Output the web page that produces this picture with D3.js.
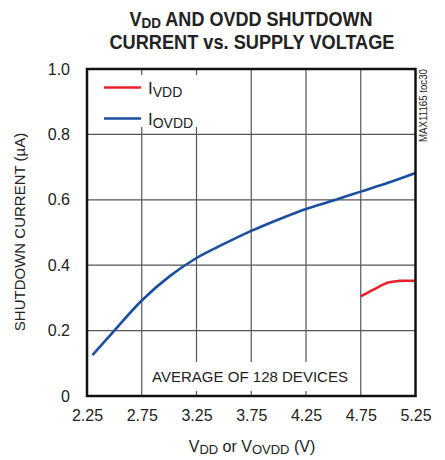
<!DOCTYPE html>
<html><head><meta charset="utf-8">
<script src="https://cdn.jsdelivr.net/npm/d3@7"></script>
<style>body{margin:0;background:#fff}svg{display:block;font-family:"Liberation Sans",Arial,sans-serif}</style>
</head><body>
<svg id="c" width="445" height="460"></svg>
<script>
const ovddV = [2.30, 2.5, 2.75, 3.0, 3.25, 3.5, 3.75, 4.0, 4.25, 4.5, 4.75, 5.0, 5.25];
const ovddI = [0.125, 0.20, 0.292, 0.365, 0.422, 0.465, 0.505, 0.540, 0.572, 0.598, 0.625, 0.652, 0.682];
const vddV = [4.75, 4.875, 5.0, 5.1, 5.25];
const vddI = [0.305, 0.327, 0.347, 0.352, 0.352];
const xTicks = [2.25, 2.75, 3.25, 3.75, 4.25, 4.75, 5.25];
const yTicks = [0, 0.2, 0.4, 0.6, 0.8, 1.0];

const L = 87, R = 415.5, T = 69, B = 396;
const svg = d3.select("#c");
const x = d3.scaleLinear().domain([2.25, 5.25]).range([L, R]);
const y = d3.scaleLinear().domain([0, 1]).range([B, T]);

// grid
const g = svg.append("g");
g.selectAll(".vx").data(xTicks.slice(1, -1)).join("line")
  .attr("x1", d => x(d)).attr("x2", d => x(d)).attr("y1", T).attr("y2", B)
  .attr("stroke", "#555").attr("stroke-width", 1.2);
g.selectAll(".hy").data(yTicks.slice(1, -1)).join("line")
  .attr("y1", d => y(d)).attr("y2", d => y(d)).attr("x1", L).attr("x2", R)
  .attr("stroke", "#555").attr("stroke-width", 1.2);

// white boxes
svg.append("rect").attr("x", L + 1).attr("y", 75).attr("width", 118).attr("height", 52).attr("fill", "#fff");
svg.append("rect").attr("x", 146).attr("y", 362).attr("width", 208).attr("height", 29).attr("fill", "#fff");

// data lines
const line = d3.line().x(d => x(d[0])).y(d => y(d[1])).curve(d3.curveCatmullRom.alpha(0.5));
svg.append("path").attr("d", line(ovddV.map((v, i) => [v, ovddI[i]])))
  .attr("fill", "none").attr("stroke", "#1a4fa0").attr("stroke-width", 2.6);
svg.append("path").attr("d", line(vddV.map((v, i) => [v, vddI[i]])))
  .attr("fill", "none").attr("stroke", "#e8202a").attr("stroke-width", 2.6);

// frame
svg.append("rect").attr("x", L).attr("y", T).attr("width", R - L).attr("height", B - T)
  .attr("fill", "none").attr("stroke", "#111").attr("stroke-width", 2.5);

// axes labels
const xa = d3.axisBottom(x).tickValues(xTicks).tickFormat(d => d.toFixed(2)).tickSize(0).tickPadding(14);
const xg = svg.append("g").attr("transform", `translate(0,${B})`).call(xa);
xg.select(".domain").remove();
xg.selectAll("text").attr("font-size", 16).attr("fill", "#222").attr("font-family", "Liberation Sans, Arial, sans-serif");
const ya = d3.axisLeft(y).tickValues(yTicks).tickFormat(d => d === 0 ? "0" : d.toFixed(1)).tickSize(0).tickPadding(17);
const yg = svg.append("g").attr("transform", `translate(${L},0)`).call(ya);
yg.select(".domain").remove();
yg.selectAll("text").attr("font-size", 16).attr("fill", "#222").attr("font-family", "Liberation Sans, Arial, sans-serif");

// legend
const leg = [["VDD", "#e8202a", 87.5], ["OVDD", "#1a4fa0", 118.5]];
leg.forEach(([s, c, yy]) => {
  svg.append("line").attr("x1", 104).attr("x2", 141).attr("y1", yy).attr("y2", yy).attr("stroke", c).attr("stroke-width", 2.6);
  const t = svg.append("text").attr("x", 148).attr("y", yy + 6).attr("font-size", 17).attr("fill", "#222");
  t.append("tspan").text("I");
  t.append("tspan").attr("font-size", 14).attr("dy", 3).text(s);
});

// note
svg.append("text").attr("x", 250).attr("y", 382).attr("text-anchor", "middle").attr("font-size", 15)
  .attr("fill", "#222").attr("textLength", 196).attr("lengthAdjust", "spacingAndGlyphs").text("AVERAGE OF 128 DEVICES");

// title
const t1 = svg.append("text").attr("x", 251).attr("y", 26).attr("text-anchor", "middle").attr("font-size", 20)
  .attr("font-weight", "bold").attr("fill", "#222").attr("textLength", 243).attr("lengthAdjust", "spacingAndGlyphs");
t1.append("tspan").text("V");
t1.append("tspan").attr("font-size", 15).attr("dy", 2).text("DD");
t1.append("tspan").attr("dy", -2).text(" AND OVDD SHUTDOWN");
svg.append("text").attr("x", 252).attr("y", 49).attr("text-anchor", "middle").attr("font-size", 20)
  .attr("font-weight", "bold").attr("fill", "#222").attr("textLength", 285).attr("lengthAdjust", "spacingAndGlyphs")
  .text("CURRENT vs. SUPPLY VOLTAGE");

// y title
svg.append("text").attr("transform", "translate(25,232) rotate(-90)").attr("text-anchor", "middle")
  .attr("font-size", 15).attr("fill", "#222").text("SHUTDOWN CURRENT (µA)");

// x title
const xt = svg.append("text").attr("x", 252).attr("y", 452).attr("text-anchor", "middle").attr("font-size", 16).attr("fill", "#222");
xt.append("tspan").text("V");
xt.append("tspan").attr("font-size", 13).attr("dy", 2).text("DD");
xt.append("tspan").attr("dy", -2).text(" or V");
xt.append("tspan").attr("font-size", 13).attr("dy", 2).text("OVDD");
xt.append("tspan").attr("dy", -2).text(" (V)");

// side note
svg.append("text").attr("transform", "translate(427,142) rotate(-90)").attr("font-size", 10)
  .attr("fill", "#222").attr("textLength", 73).attr("lengthAdjust", "spacingAndGlyphs").text("MAX11165 toc30");
</script>
</body></html>
